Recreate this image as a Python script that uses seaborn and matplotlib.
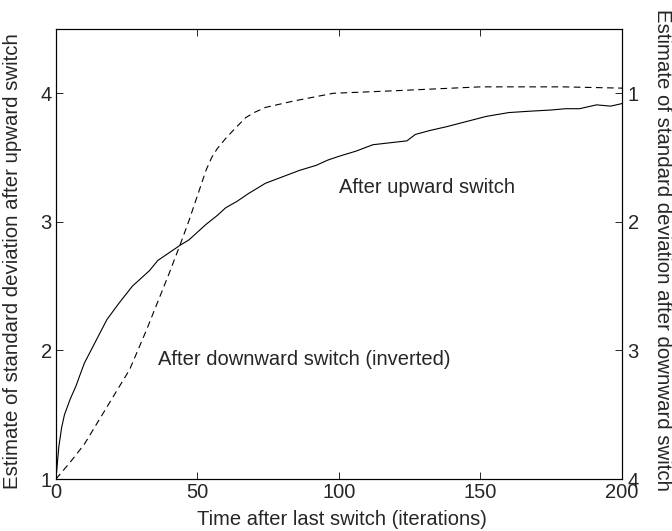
import matplotlib
matplotlib.use("Agg")
import matplotlib.pyplot as plt
import seaborn as sns
import pandas as pd

# Estimate after upward switch (left axis)
up_time = [0, 1, 2, 3, 5, 7, 10, 14, 18, 22, 27, 30, 33, 36, 40, 44, 47, 50, 53, 57,
           60, 64, 68, 74, 80, 86, 92, 96, 100, 106, 112, 116, 120, 124, 127, 132,
           138, 145, 152, 160, 167, 175, 180, 185, 191, 196, 200]
up_est = [1.0, 1.25, 1.40, 1.50, 1.62, 1.72, 1.90, 2.07, 2.24, 2.36, 2.50, 2.56, 2.62,
          2.70, 2.76, 2.82, 2.86, 2.92, 2.98, 3.05, 3.11, 3.16, 3.22, 3.30, 3.35, 3.40,
          3.44, 3.48, 3.51, 3.55, 3.60, 3.61, 3.62, 3.63, 3.68, 3.71, 3.74, 3.78, 3.82,
          3.85, 3.86, 3.87, 3.88, 3.88, 3.91, 3.90, 3.92]

# Estimate after downward switch (right axis, inverted)
down_time = [0, 5, 10, 18, 26, 32, 36, 40, 44, 47, 51, 53, 55, 57, 60, 63, 67, 70, 74,
             84, 98, 120, 150, 179, 200]
down_est = [4.0, 3.87, 3.73, 3.44, 3.15, 2.84, 2.62, 2.40, 2.17, 1.99, 1.73, 1.60,
            1.50, 1.43, 1.35, 1.28, 1.19, 1.15, 1.11, 1.06, 1.00, 0.98, 0.95, 0.95, 0.96]

x_ticks = [0, 50, 100, 150, 200]
y_ticks = [1, 2, 3, 4]

up_df = pd.DataFrame({"time": up_time, "est": up_est})
down_df = pd.DataFrame({"time": down_time, "est": down_est})

sns.set_style("ticks")
plt.rcParams["font.family"] = ["Liberation Sans", "DejaVu Sans"]
fs = 14.5

fig = plt.figure(figsize=(6.72, 5.31), dpi=100)
ax = fig.add_axes([0.0833, 0.0979, 0.8423, 0.8475])

sns.lineplot(data=up_df, x="time", y="est", ax=ax, color="black", linewidth=0.8)
ax.set_xlim(0, 200)
ax.set_ylim(1, 4.5)
ax.set_xticks(x_ticks)
ax.set_yticks(y_ticks)
ax.set_xlabel("Time after last switch (iterations)", fontsize=fs)
ax.set_ylabel("Estimate of standard deviation after upward switch", fontsize=14.7)
ax.tick_params(direction="in", length=5, width=0.7, top=True, labelsize=fs, pad=3)
ax.xaxis.set_label_coords(0.505, -0.091)
ax.xaxis.label.set_va("center")
ax.yaxis.set_label_coords(-0.076, 0.484)
ax.yaxis.label.set_va("center")

ax2 = ax.twinx()
sns.lineplot(data=down_df, x="time", y="est", ax=ax2, color="black", linewidth=0.8,
             linestyle=(0, (6, 4)))
ax2.set_ylim(4, 0.5)
ax2.set_yticks(y_ticks)
ax2.set_ylabel("Estimate of standard deviation after downward switch", fontsize=14.7,
               rotation=270)
ax2.tick_params(direction="in", length=5, width=0.7, labelsize=fs, pad=4)
ax2.yaxis.set_label_coords(1.072, 0.509)
ax2.yaxis.label.set_va("center")

for a in (ax, ax2):
    for s in a.spines.values():
        s.set_linewidth(0.8)
        s.set_color("black")

ax.text(100, 3.27, "After upward switch", fontsize=fs, ha="left", va="center")
ax.text(36, 1.93, "After downward switch (inverted)", fontsize=fs, ha="left", va="center")

fig.savefig("out.png", dpi=100, facecolor="white")
